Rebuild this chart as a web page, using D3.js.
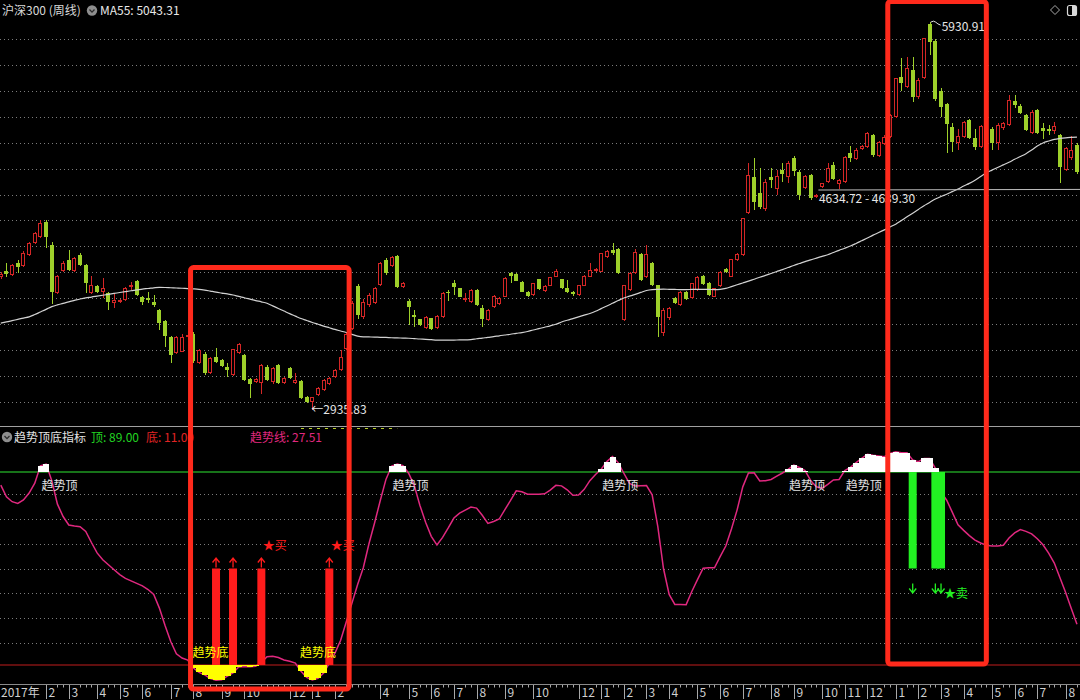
<!DOCTYPE html>
<html>
<head>
<meta charset="utf-8">
<title>沪深300 周线 · 趋势顶底指标</title>
<script src="https://cdn.jsdelivr.net/npm/d3@7/dist/d3.min.js"></script>
<style>
html,body{margin:0;padding:0;background:#000;}
svg{display:block;}
</style>
</head>
<body>
<svg id="chart" width="1080" height="700"></svg>
<script>
// CSI 300 weekly bars, Dec 2017 – Aug 2021
const opens = [3962,4009,3978,4071,4048,4133,4225,4272,4387,4210,
3839,4009,4094,4009,4133,4055,3839,3893,3847,3839,
3762,3770,3785,3885,3930,3808,3800,3770,3708,3622,
3500,3376,3384,3500,3521,3299,3368,3222,3345,3322,
3268,3206,3376,3360,3175,3152,3145,3268,3152,3283,
3145,3260,3145,3160,3036,3000,3052,3090,3137,3191,
3245,3410,3560,3890,3652,3747,3764,3901,4094,4048,
4125,3888,3780,3670,3636,3567,3644,3571,3652,3849,
3914,3876,3798,3772,3863,3721,3631,3729,3752,3811,
3991,3984,3927,3849,3824,3945,3857,3896,3965,3945,
3876,3849,3824,3893,3965,4010,4004,4115,4171,4177,
3631,3863,3991,4141,3961,4069,3901,3528,3644,3798,
3747,3849,3798,3863,3968,3919,3811,3893,4022,3965,
4094,4133,4460,4737,4609,4486,4737,4640,4790,4737,
4880,4770,4648,4750,4580,4660,4699,4828,4680,4699,
4923,4874,4951,4969,5060,4897,4990,5046,5200,5510,
5428,5561,5355,5497,5915,5788,5402,5299,5124,4996,
5046,5175,5034,4969,5125,5105,4995,5111,5137,5324,
5283,5212,5078,5253,5111,5105,5090,5059,4789,4880,
4982];
const highs = [4005,4071,4062,4094,4160,4232,4310,4403,4400,4232,
3980,4085,4170,4120,4150,4060,3970,3900,3955,3845,
3840,3795,3885,3925,3940,3820,3845,3825,3715,3630,
3510,3510,3520,3545,3540,3410,3380,3345,3415,3330,
3298,3410,3450,3370,3180,3180,3290,3280,3265,3290,
3190,3270,3220,3170,3045,3040,3110,3175,3190,3250,
3400,3530,3780,3910,3790,3840,3885,4080,4110,4127,
4130,3925,3790,3708,3640,3660,3650,3670,3850,3863,
3940,3880,3837,3870,3870,3747,3715,3825,3805,3960,
4004,3990,3930,3855,3920,3950,3900,3965,4022,3950,
3940,3855,3905,3975,4069,4030,4150,4175,4223,4185,
3905,4000,4177,4150,4210,4075,3905,3720,3730,3805,
3855,3855,3920,3970,3975,3925,3880,4010,4030,4105,
4150,4420,4846,4880,4805,4720,4805,4790,4841,4855,
4900,4790,4750,4760,4605,4690,4841,4850,4720,4900,
4975,4960,4985,5080,5070,5015,5060,5220,5500,5652,
5660,5660,5500,5810,5930.91,5800,5420,5310,5150,5105,
5170,5185,5105,5140,5150,5125,5150,5160,5368,5370,
5300,5220,5250,5260,5150,5135,5160,5070,4970,5050,
4995];
const lows = [3945,3963,3972,3993,4040,4125,4215,4265,4190,3757,
3830,4000,4010,4000,4050,3840,3835,3840,3800,3710,
3722,3760,3780,3862,3815,3750,3762,3730,3553,3422,
3298,3370,3380,3480,3300,3290,3210,3215,3298,3270,
3190,3200,3370,3160,3030,3145,3060,3160,3140,3140,
3135,3175,3135,3020,2990,2935.83,3045,3085,3130,3185,
3240,3400,3550,3640,3640,3730,3755,3895,3980,4040,
3880,3880,3592,3579,3585,3560,3550,3565,3645,3780,
3824,3805,3772,3765,3740,3579,3625,3720,3745,3805,
3914,3930,3845,3810,3820,3860,3850,3890,3960,3870,
3837,3820,3820,3890,3960,4000,4000,4110,4133,3985,
3625,3855,3985,3935,3955,3895,3502,3510,3630,3755,
3740,3785,3790,3855,3905,3820,3805,3888,3995,3960,
4090,4128,4450,4480,4490,4470,4650,4600,4700,4690,
4740,4560,4640,4560,4570,4650,4690,4710,4640,4690,
4850,4865,4940,4960,4890,4890,4980,5040,5190,5402,
5420,5318,5340,5490,5677,5320,5200,4918,4930,4940,
5040,5030,4940,4960,5080,4945,4945,5100,5130,5270,
5220,5090,5070,5070,5030,5060,5070,4689,4780,4870,
4760];
const closes = [3985,3986,4055,4040,4148,4225,4302,4380,4272,3847,
3970,4071,4017,4110,4055,3916,3900,3847,3877,3770,
3785,3785,3877,3900,3824,3770,3785,3747,3607,3507,
3360,3500,3500,3515,3312,3400,3222,3337,3307,3276,
3245,3407,3445,3168,3137,3175,3283,3168,3260,3145,
3183,3183,3165,3030,2998,3035,3106,3168,3183,3245,
3345,3520,3760,3670,3772,3824,3876,4069,3991,4120,
3888,3919,3729,3652,3592,3652,3559,3662,3842,3837,
3888,3811,3803,3863,3747,3636,3708,3819,3798,3953,
3971,3935,3849,3816,3914,3868,3893,3961,4010,3876,
3845,3829,3901,3971,4017,4022,4146,4166,4151,3991,
3901,3991,4158,3940,4141,3901,3652,3708,3721,3764,
3849,3790,3914,3965,3911,3824,3876,4004,4000,4100,
4141,4417,4751,4545,4506,4700,4712,4745,4760,4846,
4782,4595,4742,4570,4598,4687,4802,4717,4712,4892,
4880,4944,4975,5072,4905,5008,5046,5211,5497,5464,
5574,5355,5484,5806,5780,5335,5273,5144,5008,5052,
5162,5034,4969,5129,5100,4995,5137,5150,5330,5291,
5227,5098,5240,5078,5093,5090,5130,4815,4956,4944,
4776];

// 55-week moving average
const ma55 = [3607,3616,3626,3636,3646,3655,3673,3693,3713,3734,
3748,3759,3771,3782,3793,3802,3808,3815,3822,3829,
3836,3843,3850,3857,3863,3870,3874,3879,3883,3882,
3880,3878,3876,3873,3871,3868,3862,3854,3846,3839,
3832,3824,3813,3803,3792,3781,3771,3760,3740,3720,
3700,3680,3661,3642,3627,3612,3598,3584,3571,3558,
3546,3534,3520,3507,3501,3500,3499,3497,3496,3494,
3493,3491,3490,3487,3484,3482,3479,3476,3476,3476,
3476,3477,3477,3480,3486,3491,3497,3502,3509,3515,
3521,3528,3534,3542,3554,3564,3575,3586,3598,3615,
3629,3642,3655,3668,3681,3698,3719,3739,3760,3781,
3801,3815,3829,3844,3859,3866,3868,3869,3868,3867,
3866,3866,3867,3868,3868,3867,3866,3868,3875,3889,
3903,3917,3931,3946,3961,3975,3990,4005,4020,4036,
4052,4067,4082,4095,4109,4122,4135,4152,4169,4185,
4202,4222,4243,4264,4286,4306,4327,4349,4371,4399,
4428,4456,4485,4514,4539,4565,4585,4602,4622,4642,
4665,4686,4710,4739,4768,4788,4809,4829,4849,4872,
4893,4915,4944,4974,4998,5013,5026,5033,5038,5041,
5043.31];

// trend top/bottom indicator line (0–100)
const trendLine = [83.7,79.0,77.0,76.3,77.7,80.5,84.5,91.5,92.2,85.5,
76.0,71.0,67.6,67.2,66.9,65.0,60.5,56.3,53.5,51.5,
49.5,47.5,46.0,45.0,44.0,43.0,41.5,39.5,34.0,27.0,
20.5,15.5,13.8,13.0,9.8,8.0,7.0,5.5,4.8,5.0,
6.5,7.8,10.2,10.4,10.3,10.5,12.0,14.3,14.5,14.0,
13.0,12.5,11.8,8.5,6.0,5.0,5.6,7.8,11.8,15.8,
21.0,28.5,36.0,43.5,50.3,60.0,68.5,77.5,86.0,91.4,
92.2,91.6,88.5,83.5,75.5,68.7,63.0,59.5,62.6,66.4,
70.4,72.4,73.6,74.8,74.4,71.5,68.2,69.0,70.0,73.8,
77.5,81.4,81.0,80.0,80.0,80.0,80.2,81.7,83.6,83.4,
81.8,79.6,79.7,82.0,85.5,88.0,90.1,93.2,95.2,92.8,
88.5,84.4,83.3,83.4,83.5,79.8,66.9,50.0,39.5,35.5,
35.5,35.4,40.7,45.5,50.1,50.3,50.3,54.8,59.1,66.0,
73.7,83.0,88.6,88.7,85.4,85.5,86.0,87.3,88.6,90.1,
91.8,90.8,89.6,85.5,83.0,82.4,84.0,85.8,86.0,89.6,
90.9,92.8,94.5,96.2,95.8,95.5,95.2,96.5,97.2,96.8,
96.8,93.9,93.2,94.5,94.5,90.5,81.0,77.6,72.7,67.7,
65.4,63.3,61.5,60.3,59.4,59.1,59.1,59.4,62.3,64.4,
65.7,65.0,64.0,62.0,59.6,56.2,52.2,46.3,40.3,33.8,
27.51];

// month ticks on the time axis (bar index, label)
const monthTickIdx = [8,12,17,21,25,30,34,39,43,51,55,59,67,72,76,80,84,89,94,102,
106,110,114,118,123,127,131,136,140,145,149,153,158,162,166,170,175,179,183,188];
const monthTickText = ["2","3","4","5","6","7","8","9","10","12","1","2","4","5","6","7","8","9","10","12",
"1","2","3","4","5","6","7","8","9","10","11","12","1","2","3","4","5","6","7","8"];
const firstLabel = "2017年";

const buySignals = [38, 41, 46, 58];
const buyStars = [46, 58];
const sellSignals = [161, 165, 166];
const sellStars = [166];
const lowMark = {idx: 55, value: 2935.83};
const highMark = {idx: 164, value: 5930.91};
const levelLine = {idx: 144, from: 4634.72, to: 4639.30};
const highlightRanges = [[33.5, 61.5], [156.6, 174]];
const topLevel = 89, bottomLevel = 11, signalLevel = 50;

// ---------------------------------------------------------------
const W = 1080, H = 700;
const FONT = '"Noto Sans CJK SC","Noto Sans",sans-serif';
const N = closes.length;
const svg = d3.select('#chart');

const x = d3.scaleLinear().domain([0, N - 1]).range([0.8, 0.8 + (N - 1) * 5.664]);
const slot = x(1) - x(0);
const yP = d3.scaleLinear().domain([3000, 5800]).range([401.7, 39.1]);
const yI = d3.scaleLinear().domain([bottomLevel, topLevel]).range([665, 472]);

svg.append('rect').attr('width', W).attr('height', H).attr('fill', '#000');

const defs = svg.append('defs');
defs.append('clipPath').attr('id', 'clipMain').append('rect')
  .attr('x', 0).attr('y', 0).attr('width', W).attr('height', 426);
defs.append('clipPath').attr('id', 'clipInd').append('rect')
  .attr('x', 0).attr('y', 428).attr('width', W).attr('height', 256);

// ---------------- price pane ----------------
const main = svg.append('g').attr('clip-path', 'url(#clipMain)');

main.append('g').selectAll('line').data(d3.range(3000, 5801, 200)).join('line')
  .attr('x1', 0).attr('x2', W)
  .attr('y1', d => Math.round(yP(d)) + 0.5).attr('y2', d => Math.round(yP(d)) + 0.5)
  .attr('stroke', '#7c7c7c').attr('stroke-dasharray', '1,3');

const RED = '#d42626', GREEN = '#9ed02a';
const bars = d3.range(N).map(i => ({i, o: opens[i], h: highs[i], l: lows[i], c: closes[i]}));
const cg = main.append('g').attr('shape-rendering', 'crispEdges');
const candle = cg.selectAll('g').data(bars).join('g');

candle.each(function (d) {
  const g = d3.select(this);
  const cx = Math.round(x(d.i));
  const up = d.c >= d.o;
  const top = Math.round(yP(Math.max(d.o, d.c)));
  const bot = Math.round(yP(Math.min(d.o, d.c)));
  const hi = Math.round(yP(d.h)), lo = Math.round(yP(d.l));
  const hgt = Math.max(bot - top, 1);
  if (up) {
    g.append('line').attr('x1', cx).attr('x2', cx).attr('y1', hi).attr('y2', top).attr('stroke', RED);
    g.append('line').attr('x1', cx).attr('x2', cx).attr('y1', top + hgt).attr('y2', lo).attr('stroke', RED);
    g.append('rect').attr('x', cx - 1.5).attr('y', top + 0.5).attr('width', 3).attr('height', Math.max(hgt - 1, 0.5))
      .attr('fill', '#000').attr('stroke', RED).attr('stroke-width', 1);
  } else {
    g.append('line').attr('x1', cx).attr('x2', cx).attr('y1', hi).attr('y2', lo).attr('stroke', GREEN);
    g.append('rect').attr('x', cx - 2).attr('y', top).attr('width', 4).attr('height', hgt).attr('fill', GREEN);
  }
});

main.append('path').datum(ma55)
  .attr('d', d3.line().x((d, i) => x(i)).y(d => yP(d)).curve(d3.curveMonotoneX))
  .attr('fill', 'none').attr('stroke', '#d2d2d2').attr('stroke-width', 1.2);

// user level line with its price range
main.append('line')
  .attr('x1', x(levelLine.idx) + 2).attr('x2', W)
  .attr('y1', yP(levelLine.from)).attr('y2', yP(levelLine.to))
  .attr('stroke', '#bdbdbd').attr('stroke-width', 1);
main.append('text')
  .attr('x', x(levelLine.idx) + 2.5).attr('y', yP(levelLine.from) + 13)
  .attr('fill', '#e6e6e6').attr('font-family', FONT).attr('font-size', 12)
  .text(`${levelLine.from.toFixed(2)} - ${levelLine.to.toFixed(2)}`);

// extreme markers
main.append('text')
  .attr('x', x(lowMark.idx) - 1).attr('y', yP(lowMark.value) + 3.5)
  .attr('fill', '#e6e6e6').attr('font-family', FONT).attr('font-size', 12)
  .text('←' + lowMark.value.toFixed(2));
const hx = x(highMark.idx), hy = yP(highMark.value);
main.append('path')
  .attr('d', `M${hx + 1},${hy} q3,-2 5,0 t5,3`)
  .attr('fill', 'none').attr('stroke', '#e0e0e0').attr('stroke-width', 1);
main.append('text')
  .attr('x', hx + 12).attr('y', hy + 8.5)
  .attr('fill', '#e6e6e6').attr('font-family', FONT).attr('font-size', 12)
  .text(highMark.value.toFixed(2));

// price pane header
svg.append('text').attr('x', 2).attr('y', 15)
  .attr('fill', '#d8d8d8').attr('font-family', FONT).attr('font-size', 12).text('沪深300 (周线)');
function dropIcon(cx, cy) {
  svg.append('circle').attr('cx', cx).attr('cy', cy).attr('r', 5.2).attr('fill', '#8e8e8e');
  svg.append('path').attr('d', `M${cx - 2.5},${cy - 1} L${cx},${cy + 1.6} L${cx + 2.5},${cy - 1}`)
    .attr('fill', 'none').attr('stroke', '#2a2a2a').attr('stroke-width', 1.3);
}
dropIcon(92, 10.5);
svg.append('text').attr('x', 100).attr('y', 15)
  .attr('fill', '#e8e8e8').attr('font-family', FONT).attr('font-size', 12)
  .text('MA55: ' + ma55[N - 1].toFixed(2));

// top-right window icons
svg.append('path').attr('d', 'M1055,5.5 L1059.5,10 L1055,14.5 L1050.5,10 Z')
  .attr('fill', 'none').attr('stroke', '#a8a8a8').attr('stroke-width', 1);
svg.append('rect').attr('x', 1067.5).attr('y', 5.5).attr('width', 9).attr('height', 10).attr('rx', 2)
  .attr('fill', 'none').attr('stroke', '#d8d8d8').attr('stroke-width', 1.2);
svg.append('rect').attr('x', 1072).attr('y', 6).attr('width', 4).attr('height', 9).attr('fill', '#d8d8d8');

// pane separator
svg.append('line').attr('x1', 0).attr('x2', W).attr('y1', 426.5).attr('y2', 426.5)
  .attr('stroke', '#a0a0a0').attr('stroke-width', 1.2);

// ---------------- indicator pane ----------------
const ind = svg.append('g').attr('clip-path', 'url(#clipInd)');

ind.append('g').selectAll('line').data(d3.range(20, 81, 10)).join('line')
  .attr('x1', 0).attr('x2', W)
  .attr('y1', d => Math.round(yI(d)) + 0.5).attr('y2', d => Math.round(yI(d)) + 0.5)
  .attr('stroke', '#7c7c7c').attr('stroke-dasharray', '1,3');

ind.append('line').attr('x1', 0).attr('x2', W).attr('y1', yI(topLevel)).attr('y2', yI(topLevel))
  .attr('stroke', '#1f9a22').attr('stroke-width', 1.4);
ind.append('line').attr('x1', 0).attr('x2', W).attr('y1', yI(bottomLevel)).attr('y2', yI(bottomLevel))
  .attr('stroke', '#c01c1c').attr('stroke-width', 1.2);

ind.append('path').datum(trendLine)
  .attr('d', d3.line().x((d, i) => x(i)).y(d => yI(d)))
  .attr('fill', 'none').attr('stroke', '#e0287f').attr('stroke-width', 1.5);

const trendPts = trendLine.map((v, i) => ({i, v}));
ind.append('g').attr('shape-rendering', 'crispEdges')
  .selectAll('rect').data(trendPts.filter(d => d.v > topLevel)).join('rect')
  .attr('x', d => x(d.i) - slot / 2).attr('width', slot + 0.4)
  .attr('y', d => yI(d.v)).attr('height', d => yI(topLevel) - yI(d.v))
  .attr('fill', '#ffffff');
ind.append('g').attr('shape-rendering', 'crispEdges')
  .selectAll('rect').data(trendPts.filter(d => d.v < bottomLevel)).join('rect')
  .attr('x', d => x(d.i) - slot / 2).attr('width', slot + 0.4)
  .attr('y', yI(bottomLevel)).attr('height', d => yI(d.v) - yI(bottomLevel))
  .attr('fill', '#ffff00');

// buy signals
const BUY = '#ff1c1c', SELL = '#22f022';
ind.append('g').selectAll('rect').data(buySignals).join('rect')
  .attr('x', d => x(d) - 4).attr('width', 8)
  .attr('y', yI(signalLevel)).attr('height', yI(bottomLevel) - yI(signalLevel))
  .attr('fill', BUY);
ind.append('g').selectAll('path').data(buySignals).join('path')
  .attr('d', d => {
    const cx = x(d), y0 = yI(signalLevel) - 1;
    return `M${cx},${y0} L${cx},${y0 - 9} M${cx - 3.5},${y0 - 5} L${cx},${y0 - 9.5} L${cx + 3.5},${y0 - 5}`;
  })
  .attr('fill', 'none').attr('stroke', BUY).attr('stroke-width', 1.3);
ind.append('g').selectAll('text').data(buyStars).join('text')
  .attr('x', d => x(d) + 1.5).attr('y', yI(signalLevel) - 19)
  .attr('fill', BUY).attr('font-family', FONT).attr('font-size', 12).text('★买');

// sell signals
ind.append('g').selectAll('rect').data(sellSignals).join('rect')
  .attr('x', d => x(d) - 4).attr('width', 8)
  .attr('y', yI(topLevel)).attr('height', yI(signalLevel) - yI(topLevel))
  .attr('fill', SELL);
ind.append('g').selectAll('path').data(sellSignals).join('path')
  .attr('d', d => {
    const cx = x(d), y0 = yI(signalLevel) + 15;
    return `M${cx},${y0} L${cx},${y0 + 9} M${cx - 3.5},${y0 + 5} L${cx},${y0 + 9.5} L${cx + 3.5},${y0 + 5}`;
  })
  .attr('fill', 'none').attr('stroke', SELL).attr('stroke-width', 1.3);
ind.append('g').selectAll('text').data(sellStars).join('text')
  .attr('x', d => x(d) + 3).attr('y', yI(signalLevel) + 29)
  .attr('fill', SELL).attr('font-family', FONT).attr('font-size', 12).text('★卖');

// run starts -> trend top / bottom labels (drawn over the signal bars)
const runStarts = test => trendPts.filter(d => test(d.v) && (d.i === 0 || !test(trendLine[d.i - 1])));
ind.append('g').selectAll('text').data(runStarts(v => v > topLevel)).join('text')
  .attr('x', d => x(d.i) + 1).attr('y', 489.5)
  .attr('fill', '#e2e2e2').attr('font-family', FONT).attr('font-size', 12).text('趋势顶');
ind.append('g').selectAll('text').data(runStarts(v => v < bottomLevel)).join('text')
  .attr('x', d => x(d.i) - 1).attr('y', 657)
  .attr('fill', '#ffff00').attr('font-family', FONT).attr('font-size', 12).text('趋势底');

// indicator header
dropIcon(7, 437);
const hdr = svg.append('text').attr('y', 441.5).attr('font-family', FONT).attr('font-size', 12);
hdr.append('tspan').attr('x', 14).attr('fill', '#e2e2e2').text('趋势顶底指标');
hdr.append('tspan').attr('x', 91).attr('fill', '#22d322').text('顶: ' + topLevel.toFixed(2));
hdr.append('tspan').attr('x', 146).attr('fill', '#e02424').text('底: ' + bottomLevel.toFixed(2));
hdr.append('tspan').attr('x', 250).attr('fill', '#e0287f').text('趋势线: ' + trendLine[N - 1].toFixed(2));
svg.append('line').attr('x1', x(53)).attr('x2', x(70)).attr('y1', 428.5).attr('y2', 428.5)
  .attr('stroke', '#b9cf2a').attr('stroke-width', 1.2).attr('stroke-dasharray', '3,5');

// ---------------- time axis ----------------
const ax = svg.append('g');
ax.append('line').attr('x1', 0).attr('x2', W).attr('y1', 684.5).attr('y2', 684.5)
  .attr('stroke', '#8a8a8a');
ax.append('text').attr('x', 1).attr('y', 696.5).attr('fill', '#cfcfcf')
  .attr('font-family', FONT).attr('font-size', 12).text(firstLabel);
const ticks = monthTickIdx.map((idx, k) => ({idx, t: monthTickText[k]}));
ax.selectAll('line.tk').data(ticks).join('line')
  .attr('x1', d => Math.round(x(d.idx)) + 0.5).attr('x2', d => Math.round(x(d.idx)) + 0.5)
  .attr('y1', 685).attr('y2', 699).attr('stroke', '#a8a8a8');
ax.selectAll('text.tk').data(ticks).join('text')
  .attr('x', d => Math.round(x(d.idx)) + 2.5).attr('y', 696.5)
  .attr('fill', '#cfcfcf').attr('font-family', FONT).attr('font-size', 12).text(d => d.t);
const minor = d3.range(N).filter(i => {
  if (i < 8) return false;
  return !ticks.some(d => i >= d.idx && i <= d.idx + d.t.length);
});
ax.selectAll('line.mn').data(minor).join('line')
  .attr('x1', i => Math.round(x(i)) + 0.5).attr('x2', i => Math.round(x(i)) + 0.5)
  .attr('y1', 685).attr('y2', 687.5).attr('stroke', '#a8a8a8');

// ---------------- highlight frames ----------------
const frames = [
  {r: highlightRanges[0], y0: yP(4036), y1: 689},
  {r: highlightRanges[1], y0: 1.5, y1: 664}
];
svg.append('g').selectAll('rect').data(frames).join('rect')
  .attr('x', d => x(d.r[0])).attr('width', d => x(d.r[1]) - x(d.r[0]))
  .attr('y', d => d.y0).attr('height', d => d.y1 - d.y0)
  .attr('rx', 3).attr('fill', 'none').attr('stroke', '#ff2a1c').attr('stroke-width', 5);
</script>
</body>
</html>
